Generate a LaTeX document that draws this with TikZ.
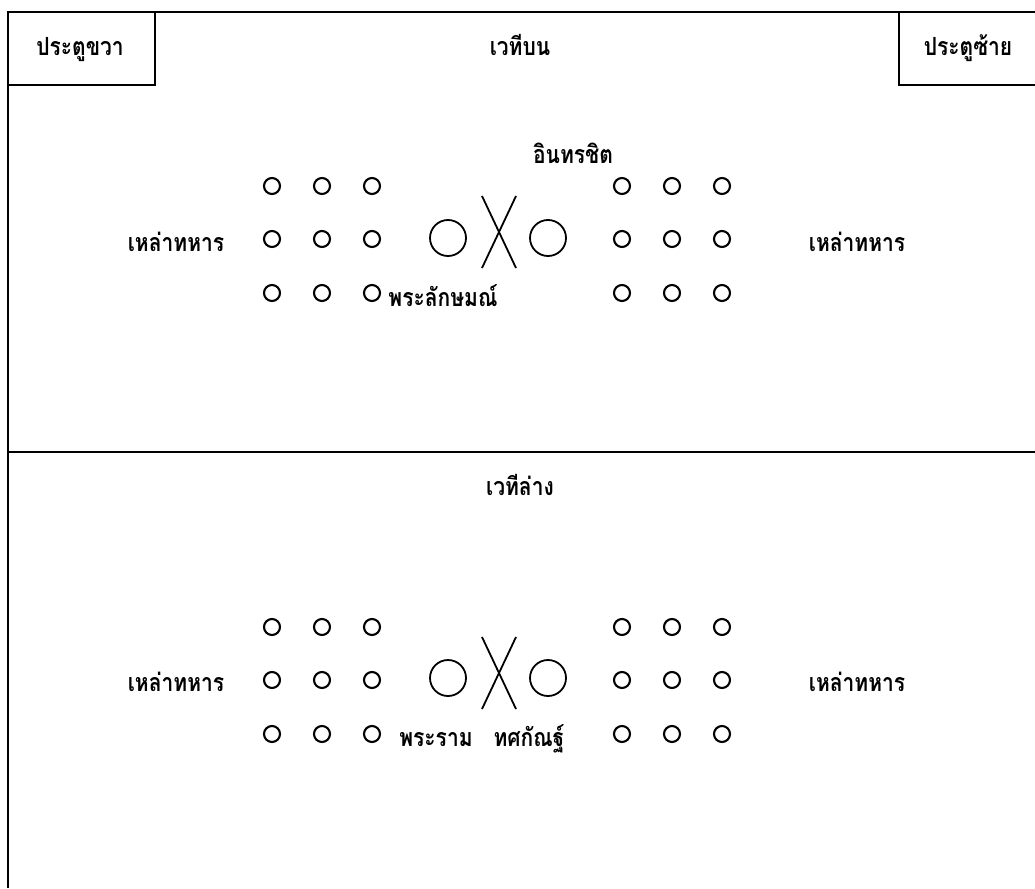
\documentclass[tikz,border=0pt]{standalone}
\usepackage{graphicx}
\usepackage{fontspec}
\newfontfamily\thaifont[Script=Thai]{Loma}
% narrow, tall bold Thai lettering
\newcommand{\thlabel}[1]{\scalebox{0.84}[1]{\thaifont\bfseries\fontsize{25}{28}\selectfont #1}}
\begin{document}
\begin{tikzpicture}[x=1pt,y=-1pt,
  stage/.style={line width=2.2pt},
  soldier/.style={circle,draw,line width=2.1pt,minimum size=16pt,inner sep=0pt},
  hero/.style={circle,draw,line width=1.8pt,minimum size=36pt,inner sep=0pt},
  cross/.style={line width=1.8pt},
  lbl/.style={anchor=base,inner sep=0pt}]
\useasboundingbox (0,0) rectangle (1035,888);

% stage outline and the line between the two levels
\draw[stage] (1035,12) -- (8,12) -- (8,888);
\draw[stage] (8,452) -- (1035,452);

% doors
\draw[stage] (8,85) -- (155,85) -- (155,12);
\draw[stage] (1035,85) -- (899,85) -- (899,12);
\node[lbl] (doorR) at (80,56) {\thlabel{ประตูขวา}};
\node[lbl] (doorL) at (968,56) {\thlabel{ประตูซ้าย}};

% upper level
\node[lbl] (upper) at (520,56) {\thlabel{เวทีบน}};
\foreach \r/\y in {1/186,2/239,3/293}{
  \foreach \c/\x in {1/272,2/322,3/372}{
    \node[soldier] (us-l\r\c) at (\x,\y) {};}
  \foreach \c/\x in {1/622,2/672,3/722}{
    \node[soldier] (us-r\r\c) at (\x,\y) {};}
}
\node[hero] (lak) at (448,238) {};
\node[hero] (ind) at (548,238) {};
\coordinate (ux1) at (482,196); \coordinate (ux2) at (516,268);
\coordinate (ux3) at (516,196); \coordinate (ux4) at (482,268);
\draw[cross] (ux1) -- (ux2);
\draw[cross] (ux3) -- (ux4);
\node[lbl] (indname) at (573,163) {\thlabel{อินทรชิต}};
\node[lbl] (lakname) at (443,306) {\thlabel{พระลักษมณ์}};
\node[lbl] (usl) at (176,251) {\thlabel{เหล่าทหาร}};
\node[lbl] (usr) at (857,251) {\thlabel{เหล่าทหาร}};

% lower level
\node[lbl] (lower) at (520,495) {\thlabel{เวทีล่าง}};
\foreach \r/\y in {1/627,2/680,3/734}{
  \foreach \c/\x in {1/272,2/322,3/372}{
    \node[soldier] (ls-l\r\c) at (\x,\y) {};}
  \foreach \c/\x in {1/622,2/672,3/722}{
    \node[soldier] (ls-r\r\c) at (\x,\y) {};}
}
\node[hero] (ram) at (448,678) {};
\node[hero] (tos) at (548,678) {};
\coordinate (lx1) at (482,637); \coordinate (lx2) at (516,709);
\coordinate (lx3) at (516,637); \coordinate (lx4) at (482,709);
\draw[cross] (lx1) -- (lx2);
\draw[cross] (lx3) -- (lx4);
\node[lbl] (ramname) at (436,746) {\thlabel{พระราม}};
\node[lbl] (tosname) at (529,746) {\thlabel{ทศกัณฐ์}};
\node[lbl] (lsl) at (176,691) {\thlabel{เหล่าทหาร}};
\node[lbl] (lsr) at (857,691) {\thlabel{เหล่าทหาร}};
\end{tikzpicture}
\end{document}
